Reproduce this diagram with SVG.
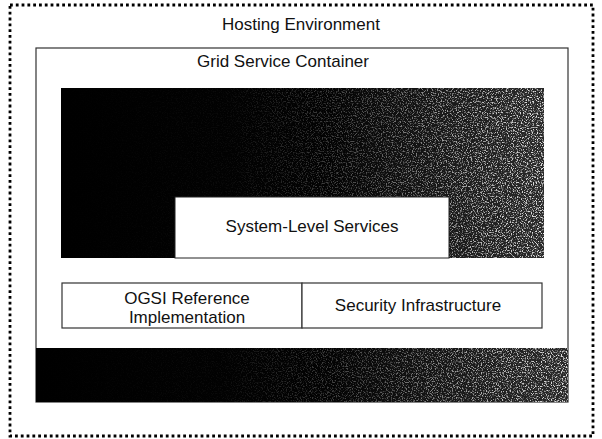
<svg xmlns="http://www.w3.org/2000/svg" width="602" height="439" viewBox="0 0 602 439">
  <style>
    .lbl { font-family: "Liberation Sans", Arial, sans-serif; font-size: 17px; fill: #111; text-anchor: middle; }
    .box { fill: #fff; stroke: #333; stroke-width: 1.2; }
  </style>
  <defs>
    <linearGradient id="darkGrad" x1="0" y1="0" x2="1" y2="0">
      <stop offset="0" stop-color="#000"/>
      <stop offset="0.55" stop-color="#030303"/>
      <stop offset="1" stop-color="#2a2a2a"/>
    </linearGradient>
    <linearGradient id="maskGrad" x1="0" y1="0" x2="1" y2="0">
      <stop offset="0" stop-color="#000"/>
      <stop offset="0.35" stop-color="#0a0a0a"/>
      <stop offset="0.65" stop-color="#555"/>
      <stop offset="0.85" stop-color="#aaa"/>
      <stop offset="1" stop-color="#ddd"/>
    </linearGradient>
    <filter id="speck" x="0" y="0" width="100%" height="100%" filterUnits="objectBoundingBox">
      <feTurbulence type="fractalNoise" baseFrequency="0.8" numOctaves="2" seed="7" result="n"/>
      <feColorMatrix in="n" type="matrix" values="0 0 0 0 1  0 0 0 0 1  0 0 0 0 1  5 0 0 0 -2.5"/>
    </filter>
    <mask id="mTop" maskUnits="userSpaceOnUse" x="61" y="88" width="483" height="170">
      <rect x="61" y="88" width="483" height="170" fill="url(#maskGrad)"/>
    </mask>
    <mask id="mBot" maskUnits="userSpaceOnUse" x="36" y="348" width="532" height="54">
      <rect x="36" y="348" width="532" height="54" fill="url(#maskGrad)"/>
    </mask>
  </defs>

  <rect width="602" height="439" fill="#fff"/>

  <g id="hosting-environment">
    <rect x="10" y="5" width="583" height="431" fill="none" stroke="#000" stroke-width="2.8" stroke-dasharray="2.8 3"/>
    <text class="lbl" x="301" y="30">Hosting Environment</text>
  </g>

  <g id="grid-service-container">
    <rect class="box" x="36" y="48" width="532" height="354"/>
    <text class="lbl" x="283" y="67">Grid Service Container</text>
  </g>

  <g id="upper-services-area">
    <rect x="61" y="88" width="483" height="170" fill="url(#darkGrad)"/>
    <rect x="61" y="88" width="483" height="170" fill="#fff" filter="url(#speck)" mask="url(#mTop)"/>
  </g>

  <g id="system-level-services">
    <rect x="175" y="197" width="274" height="61" fill="#fff" stroke="#222" stroke-width="1"/>
    <text class="lbl" x="312" y="232">System-Level Services</text>
  </g>

  <g id="ogsi-reference-implementation">
    <rect class="box" x="62" y="283" width="240" height="45"/>
    <text class="lbl" x="187" y="304">OGSI Reference</text>
    <text class="lbl" x="187" y="323">Implementation</text>
  </g>

  <g id="security-infrastructure">
    <rect class="box" x="302" y="283" width="240" height="45"/>
    <text class="lbl" x="418" y="311">Security Infrastructure</text>
  </g>

  <g id="hosting-base-layer">
    <rect x="36" y="348" width="532" height="54" fill="url(#darkGrad)"/>
    <rect x="36" y="348" width="532" height="54" fill="#fff" filter="url(#speck)" mask="url(#mBot)"/>
  </g>
</svg>
